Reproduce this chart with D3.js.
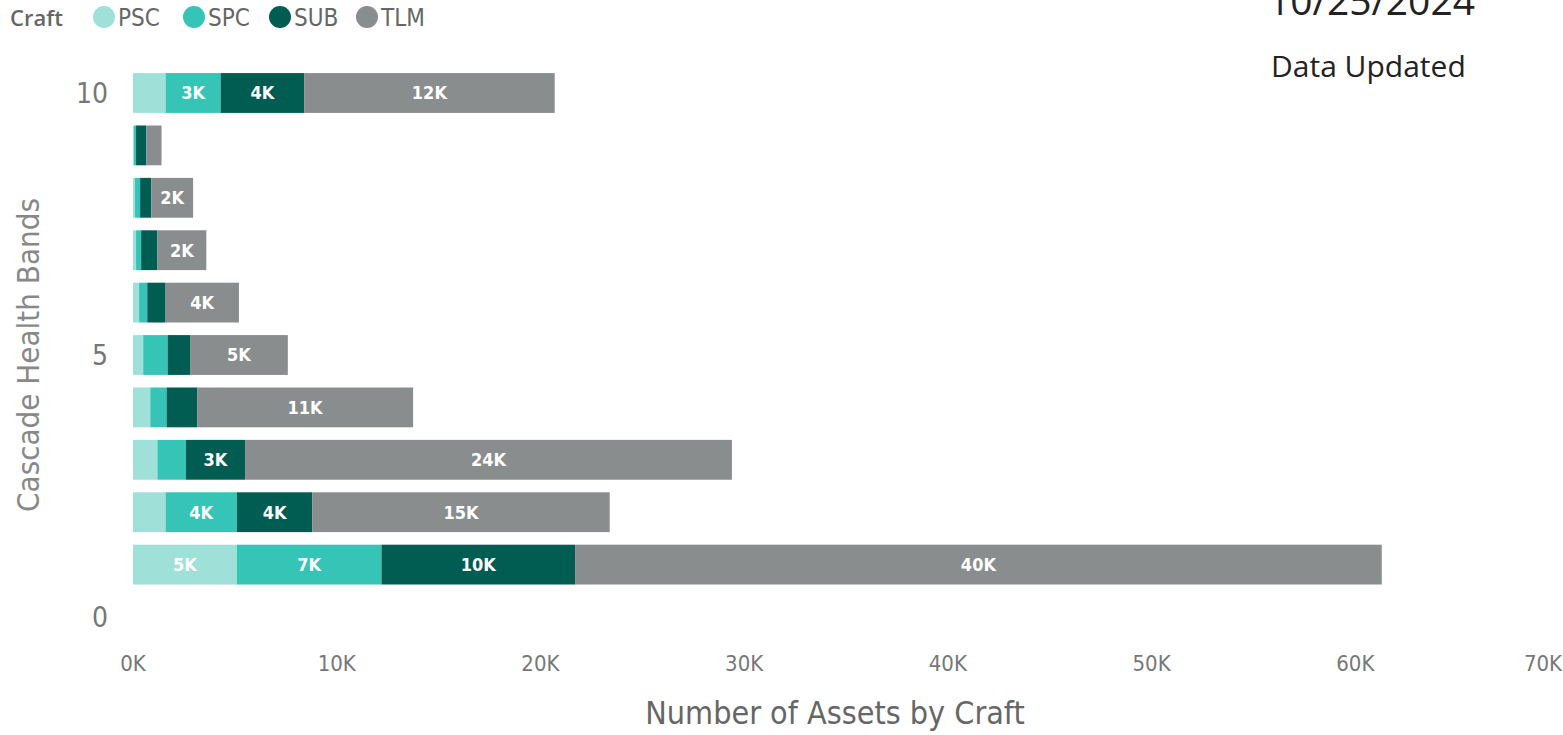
<!DOCTYPE html>
<html>
<head>
<meta charset="utf-8">
<title>Cascade Health Bands</title>
<style>
  body { margin: 0; background: #fff; }
  svg { display: block; }
</style>
</head>
<body>
<main></main>
<script src="https://cdn.jsdelivr.net/npm/d3@7"></script>
<script>
    // data
    var bands = [10, 9, 8, 7, 6, 5, 4, 3, 2, 1];
    var crafts = ["PSC", "SPC", "SUB", "TLM"];
    var psc = [1600, 50, 100, 150, 300, 500, 850, 1200, 1600, 5100];
    var spc = [2700, 100, 250, 250, 400, 1200, 800, 1400, 3500, 7100];
    var sub = [4100, 500, 550, 800, 900, 1100, 1500, 2900, 3700, 9500];
    var tlm = [12300, 750, 2050, 2400, 3600, 4800, 10600, 23900, 14600, 39600];
    var xTicks = [0, 10000, 20000, 30000, 40000, 50000, 60000, 70000];
    var yTicks = [0, 5, 10];
    var colors = ["#9fe0d9", "#35c4b5", "#015c52", "#898d8e"];

    var width = 1563, height = 735;
    var font = "'Open Sans', 'Noto Sans', sans-serif";
    var condensed = "'DejaVu Sans Condensed', 'Liberation Sans Narrow', 'Open Sans', sans-serif";

    var svg = d3.select("main").append("svg")
        .attr("width", width)
        .attr("height", height);

    var x = d3.scaleLinear().domain([0, 70000]).range([133, 1559]);
    var y = d3.scaleLinear().domain([0, 10]).range([617, 93]);
    var barH = (y(0) - y(1)) * 0.76;

    // stack rows
    var rows = bands.map(function (b, i) {
        return { band: b, PSC: psc[i], SPC: spc[i], SUB: sub[i], TLM: tlm[i] };
    });
    var series = d3.stack().keys(crafts)(rows);

    var g = svg.append("g");
    series.forEach(function (s, si) {
        var layer = g.append("g");
        layer.selectAll("rect")
            .data(s)
            .enter()
            .append("rect")
            .attr("x", function (d) { return x(d[0]); })
            .attr("y", function (d) { return y(d.data.band) - barH / 2; })
            .attr("width", function (d) { return x(d[1]) - x(d[0]); })
            .attr("height", barH)
            .attr("fill", colors[si]);

        // labels only where the segment is wide enough
        layer.selectAll("text")
            .data(s.filter(function (d) { return x(d[1]) - x(d[0]) >= 38; }))
            .enter()
            .append("text")
            .attr("x", function (d) { return (x(d[0]) + x(d[1])) / 2; })
            .attr("y", function (d) { return y(d.data.band); })
            .attr("dy", "0.36em")
            .attr("text-anchor", "middle")
            .attr("fill", "#fff")
            .attr("font-family", condensed)
            .attr("font-weight", "bold")
            .attr("font-size", 18)
            .text(function (d) { return Math.round((d[1] - d[0]) / 1000) + "K"; });
    });

    // x axis labels
    svg.append("g").selectAll("text")
        .data(xTicks)
        .enter()
        .append("text")
        .attr("x", function (d) { return Math.min(x(d), 1543); })
        .attr("y", 671)
        .attr("text-anchor", "middle")
        .attr("fill", "#777")
        .attr("font-family", condensed)
        .attr("font-size", 22)
        .text(function (d) { return (d / 1000) + "K"; });

    svg.append("text")
        .attr("x", 835)
        .attr("y", 724)
        .attr("text-anchor", "middle")
        .attr("fill", "#666")
        .attr("font-family", condensed)
        .attr("font-size", 32)
        .text("Number of Assets by Craft");

    // y axis labels
    svg.append("g").selectAll("text")
        .data(yTicks)
        .enter()
        .append("text")
        .attr("x", 108)
        .attr("y", function (d) { return y(d); })
        .attr("dy", "0.36em")
        .attr("text-anchor", "end")
        .attr("fill", "#777")
        .attr("font-family", condensed)
        .attr("font-size", 28)
        .text(function (d) { return d; });

    svg.append("text")
        .attr("transform", "translate(39,355) rotate(-90)")
        .attr("text-anchor", "middle")
        .attr("fill", "#888")
        .attr("font-family", condensed)
        .attr("font-size", 31)
        .text("Cascade Health Bands");

    // legend
    var legend = svg.append("g");
    legend.append("text")
        .attr("x", 10)
        .attr("y", 26)
        .attr("fill", "#666")
        .attr("font-family", font)
        .attr("font-weight", 600)
        .attr("font-size", 22)
        .text("Craft");
    var legX = [104, 194, 280, 367];
    crafts.forEach(function (c, i) {
        legend.append("circle")
            .attr("cx", legX[i])
            .attr("cy", 17)
            .attr("r", 11)
            .attr("fill", colors[i]);
        legend.append("text")
            .attr("x", legX[i] + 14)
            .attr("y", 26)
            .attr("fill", "#666")
            .attr("font-family", condensed)
            .attr("font-size", 24)
            .text(c);
    });

    // date card
    svg.append("text")
        .attr("x", 1268)
        .attr("y", 15)
        .attr("fill", "#222")
        .attr("font-family", font)
        .attr("font-size", 39)
        .text("10/25/2024");
    svg.append("text")
        .attr("x", 1271)
        .attr("y", 77)
        .attr("fill", "#222")
        .attr("font-family", font)
        .attr("font-size", 30)
        .text("Data Updated");
</script>
</body>
</html>
